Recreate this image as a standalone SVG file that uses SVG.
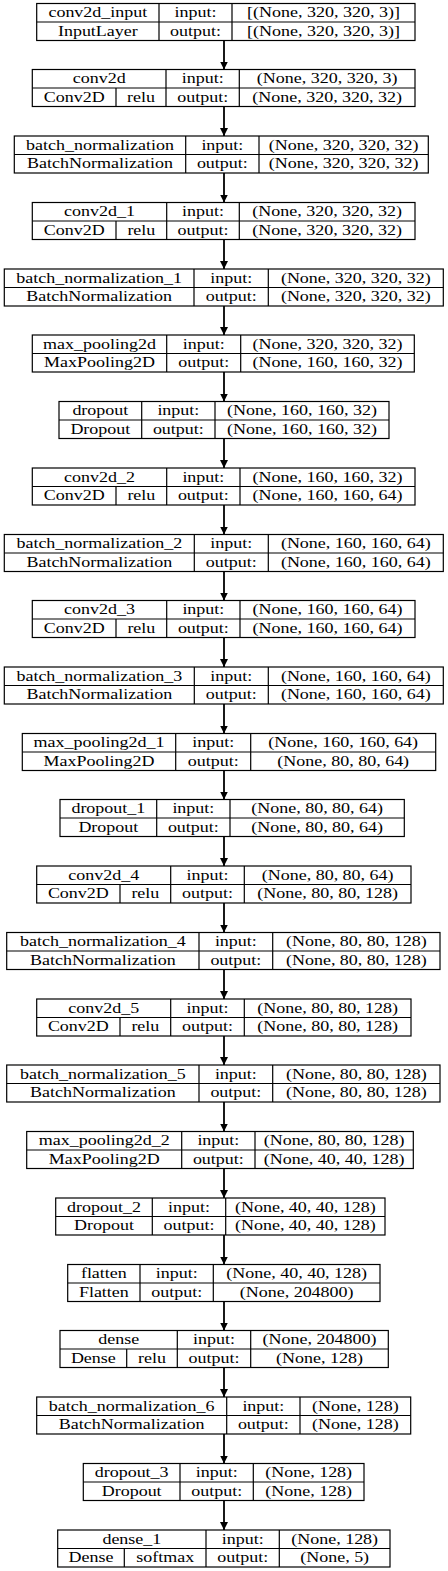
<svg xmlns="http://www.w3.org/2000/svg" width="448" height="1571" viewBox="0 0 448 1571">
<style>
.node rect,.node path{fill:none;stroke:#000;stroke-width:1.2}
.node text{font-family:"Liberation Serif","Times New Roman",serif;font-size:18px;text-anchor:middle;fill:#000}
.edges path{stroke:#000;stroke-width:1.8;fill:none;marker-end:url(#ah)}
</style>
<defs>
<marker id="ah" viewBox="0 0 10 10" refX="10" refY="5" markerWidth="8" markerHeight="9" markerUnits="userSpaceOnUse" orient="auto"><path d="M0,0 L10,5 L0,10 z" fill="#000"/></marker>
</defs>
<rect width="448" height="1571" fill="#fff"/>
<g class="edges">
<path d="M224 40.5V69.5"/><path d="M224 106.5V136"/><path d="M224 173V202.5"/><path d="M224 239.5V269"/><path d="M224 306V335"/><path d="M224 372V401.5"/><path d="M224 438.5V468"/><path d="M224 505V534.5"/><path d="M224 571.5V600.5"/><path d="M224 637.5V667"/><path d="M224 704V733.5"/><path d="M224 770.5V799.5"/><path d="M224 836.5V866"/><path d="M224 903V932.5"/><path d="M224 969.5V999"/><path d="M224 1036V1065"/><path d="M224 1102V1131.5"/><path d="M224 1168.5V1198"/><path d="M224 1235V1264.5"/><path d="M224 1301.5V1330.5"/><path d="M224 1367.5V1397"/><path d="M224 1434V1463.5"/><path d="M224 1500.5V1530"/>
</g>
<g id="conv2d_input" class="node"><rect x="36.7" y="3.5" width="378.3" height="37"/><path d="M36.7 22H415M159 3.5V40.5M232 3.5V40.5"/>
<text transform="translate(97.85,17) scale(1,0.76)">conv2d_input</text><text transform="translate(195.5,17) scale(1,0.76)">input:</text><text transform="translate(323.5,17) scale(1,0.76)">[(None, 320, 320, 3)]</text>
<text transform="translate(97.85,35.5) scale(1,0.76)">InputLayer</text><text transform="translate(195.5,35.5) scale(1,0.76)">output:</text><text transform="translate(323.5,35.5) scale(1,0.76)">[(None, 320, 320, 3)]</text></g>
<g id="conv2d" class="node"><rect x="32.3" y="69.5" width="382.7" height="37"/><path d="M32.3 88H415M166 69.5V106.5M239.3 69.5V106.5M116 88V106.5"/>
<text transform="translate(99.15,83) scale(1,0.76)">conv2d</text><text transform="translate(202.65,83) scale(1,0.76)">input:</text><text transform="translate(327.15,83) scale(1,0.76)">(None, 320, 320, 3)</text>
<text transform="translate(74.15,101.5) scale(1,0.76)">Conv2D</text><text transform="translate(141,101.5) scale(1,0.76)">relu</text><text transform="translate(202.65,101.5) scale(1,0.76)">output:</text><text transform="translate(327.15,101.5) scale(1,0.76)">(None, 320, 320, 32)</text></g>
<g id="batch_normalization" class="node"><rect x="14.3" y="136" width="414" height="37"/><path d="M14.3 154.5H428.3M185.7 136V173M259 136V173"/>
<text transform="translate(100,149.5) scale(1,0.76)">batch_normalization</text><text transform="translate(222.35,149.5) scale(1,0.76)">input:</text><text transform="translate(343.65,149.5) scale(1,0.76)">(None, 320, 320, 32)</text>
<text transform="translate(100,168) scale(1,0.76)">BatchNormalization</text><text transform="translate(222.35,168) scale(1,0.76)">output:</text><text transform="translate(343.65,168) scale(1,0.76)">(None, 320, 320, 32)</text></g>
<g id="conv2d_1" class="node"><rect x="32.3" y="202.5" width="382.7" height="37"/><path d="M32.3 221H415M166.7 202.5V239.5M239.3 202.5V239.5M116 221V239.5"/>
<text transform="translate(99.5,216) scale(1,0.76)">conv2d_1</text><text transform="translate(203,216) scale(1,0.76)">input:</text><text transform="translate(327.15,216) scale(1,0.76)">(None, 320, 320, 32)</text>
<text transform="translate(74.15,234.5) scale(1,0.76)">Conv2D</text><text transform="translate(141.35,234.5) scale(1,0.76)">relu</text><text transform="translate(203,234.5) scale(1,0.76)">output:</text><text transform="translate(327.15,234.5) scale(1,0.76)">(None, 320, 320, 32)</text></g>
<g id="batch_normalization_1" class="node"><rect x="4.3" y="269" width="439" height="37"/><path d="M4.3 287.5H443.3M194 269V306M268.3 269V306"/>
<text transform="translate(99.15,282.5) scale(1,0.76)">batch_normalization_1</text><text transform="translate(231.15,282.5) scale(1,0.76)">input:</text><text transform="translate(355.8,282.5) scale(1,0.76)">(None, 320, 320, 32)</text>
<text transform="translate(99.15,301) scale(1,0.76)">BatchNormalization</text><text transform="translate(231.15,301) scale(1,0.76)">output:</text><text transform="translate(355.8,301) scale(1,0.76)">(None, 320, 320, 32)</text></g>
<g id="max_pooling2d" class="node"><rect x="32.3" y="335" width="382" height="37"/><path d="M32.3 353.5H414.3M166.7 335V372M240.7 335V372"/>
<text transform="translate(99.5,348.5) scale(1,0.76)">max_pooling2d</text><text transform="translate(203.7,348.5) scale(1,0.76)">input:</text><text transform="translate(327.5,348.5) scale(1,0.76)">(None, 320, 320, 32)</text>
<text transform="translate(99.5,367) scale(1,0.76)">MaxPooling2D</text><text transform="translate(203.7,367) scale(1,0.76)">output:</text><text transform="translate(327.5,367) scale(1,0.76)">(None, 160, 160, 32)</text></g>
<g id="dropout" class="node"><rect x="59" y="401.5" width="330" height="37"/><path d="M59 420H389M141.7 401.5V438.5M215 401.5V438.5"/>
<text transform="translate(100.35,415) scale(1,0.76)">dropout</text><text transform="translate(178.35,415) scale(1,0.76)">input:</text><text transform="translate(302,415) scale(1,0.76)">(None, 160, 160, 32)</text>
<text transform="translate(100.35,433.5) scale(1,0.76)">Dropout</text><text transform="translate(178.35,433.5) scale(1,0.76)">output:</text><text transform="translate(302,433.5) scale(1,0.76)">(None, 160, 160, 32)</text></g>
<g id="conv2d_2" class="node"><rect x="32.3" y="468" width="382.7" height="37"/><path d="M32.3 486.5H415M166.7 468V505M240 468V505M116 486.5V505"/>
<text transform="translate(99.5,481.5) scale(1,0.76)">conv2d_2</text><text transform="translate(203.35,481.5) scale(1,0.76)">input:</text><text transform="translate(327.5,481.5) scale(1,0.76)">(None, 160, 160, 32)</text>
<text transform="translate(74.15,500) scale(1,0.76)">Conv2D</text><text transform="translate(141.35,500) scale(1,0.76)">relu</text><text transform="translate(203.35,500) scale(1,0.76)">output:</text><text transform="translate(327.5,500) scale(1,0.76)">(None, 160, 160, 64)</text></g>
<g id="batch_normalization_2" class="node"><rect x="4.3" y="534.5" width="439" height="37"/><path d="M4.3 553H443.3M194.3 534.5V571.5M268.3 534.5V571.5"/>
<text transform="translate(99.3,548) scale(1,0.76)">batch_normalization_2</text><text transform="translate(231.3,548) scale(1,0.76)">input:</text><text transform="translate(355.8,548) scale(1,0.76)">(None, 160, 160, 64)</text>
<text transform="translate(99.3,566.5) scale(1,0.76)">BatchNormalization</text><text transform="translate(231.3,566.5) scale(1,0.76)">output:</text><text transform="translate(355.8,566.5) scale(1,0.76)">(None, 160, 160, 64)</text></g>
<g id="conv2d_3" class="node"><rect x="32.3" y="600.5" width="382.7" height="37"/><path d="M32.3 619H415M166.7 600.5V637.5M240 600.5V637.5M116 619V637.5"/>
<text transform="translate(99.5,614) scale(1,0.76)">conv2d_3</text><text transform="translate(203.35,614) scale(1,0.76)">input:</text><text transform="translate(327.5,614) scale(1,0.76)">(None, 160, 160, 64)</text>
<text transform="translate(74.15,632.5) scale(1,0.76)">Conv2D</text><text transform="translate(141.35,632.5) scale(1,0.76)">relu</text><text transform="translate(203.35,632.5) scale(1,0.76)">output:</text><text transform="translate(327.5,632.5) scale(1,0.76)">(None, 160, 160, 64)</text></g>
<g id="batch_normalization_3" class="node"><rect x="4.3" y="667" width="439" height="37"/><path d="M4.3 685.5H443.3M194.3 667V704M268.3 667V704"/>
<text transform="translate(99.3,680.5) scale(1,0.76)">batch_normalization_3</text><text transform="translate(231.3,680.5) scale(1,0.76)">input:</text><text transform="translate(355.8,680.5) scale(1,0.76)">(None, 160, 160, 64)</text>
<text transform="translate(99.3,699) scale(1,0.76)">BatchNormalization</text><text transform="translate(231.3,699) scale(1,0.76)">output:</text><text transform="translate(355.8,699) scale(1,0.76)">(None, 160, 160, 64)</text></g>
<g id="max_pooling2d_1" class="node"><rect x="22.3" y="733.5" width="413.4" height="37"/><path d="M22.3 752H435.7M175.7 733.5V770.5M250.7 733.5V770.5"/>
<text transform="translate(99,747) scale(1,0.76)">max_pooling2d_1</text><text transform="translate(213.2,747) scale(1,0.76)">input:</text><text transform="translate(343.2,747) scale(1,0.76)">(None, 160, 160, 64)</text>
<text transform="translate(99,765.5) scale(1,0.76)">MaxPooling2D</text><text transform="translate(213.2,765.5) scale(1,0.76)">output:</text><text transform="translate(343.2,765.5) scale(1,0.76)">(None, 80, 80, 64)</text></g>
<g id="dropout_1" class="node"><rect x="60" y="799.5" width="344.3" height="37"/><path d="M60 818H404.3M156.7 799.5V836.5M230 799.5V836.5"/>
<text transform="translate(108.35,813) scale(1,0.76)">dropout_1</text><text transform="translate(193.35,813) scale(1,0.76)">input:</text><text transform="translate(317.15,813) scale(1,0.76)">(None, 80, 80, 64)</text>
<text transform="translate(108.35,831.5) scale(1,0.76)">Dropout</text><text transform="translate(193.35,831.5) scale(1,0.76)">output:</text><text transform="translate(317.15,831.5) scale(1,0.76)">(None, 80, 80, 64)</text></g>
<g id="conv2d_4" class="node"><rect x="36.7" y="866" width="374.3" height="37"/><path d="M36.7 884.5H411M170.7 866V903M244.3 866V903M120 884.5V903"/>
<text transform="translate(103.7,879.5) scale(1,0.76)">conv2d_4</text><text transform="translate(207.5,879.5) scale(1,0.76)">input:</text><text transform="translate(327.65,879.5) scale(1,0.76)">(None, 80, 80, 64)</text>
<text transform="translate(78.35,898) scale(1,0.76)">Conv2D</text><text transform="translate(145.35,898) scale(1,0.76)">relu</text><text transform="translate(207.5,898) scale(1,0.76)">output:</text><text transform="translate(327.65,898) scale(1,0.76)">(None, 80, 80, 128)</text></g>
<g id="batch_normalization_4" class="node"><rect x="6.7" y="932.5" width="433.3" height="37"/><path d="M6.7 951H440M199 932.5V969.5M272.7 932.5V969.5"/>
<text transform="translate(102.85,946) scale(1,0.76)">batch_normalization_4</text><text transform="translate(235.85,946) scale(1,0.76)">input:</text><text transform="translate(356.35,946) scale(1,0.76)">(None, 80, 80, 128)</text>
<text transform="translate(102.85,964.5) scale(1,0.76)">BatchNormalization</text><text transform="translate(235.85,964.5) scale(1,0.76)">output:</text><text transform="translate(356.35,964.5) scale(1,0.76)">(None, 80, 80, 128)</text></g>
<g id="conv2d_5" class="node"><rect x="36.7" y="999" width="374.3" height="37"/><path d="M36.7 1017.5H411M170.7 999V1036M244.3 999V1036M120 1017.5V1036"/>
<text transform="translate(103.7,1012.5) scale(1,0.76)">conv2d_5</text><text transform="translate(207.5,1012.5) scale(1,0.76)">input:</text><text transform="translate(327.65,1012.5) scale(1,0.76)">(None, 80, 80, 128)</text>
<text transform="translate(78.35,1031) scale(1,0.76)">Conv2D</text><text transform="translate(145.35,1031) scale(1,0.76)">relu</text><text transform="translate(207.5,1031) scale(1,0.76)">output:</text><text transform="translate(327.65,1031) scale(1,0.76)">(None, 80, 80, 128)</text></g>
<g id="batch_normalization_5" class="node"><rect x="6.7" y="1065" width="433.3" height="37"/><path d="M6.7 1083.5H440M199 1065V1102M272.7 1065V1102"/>
<text transform="translate(102.85,1078.5) scale(1,0.76)">batch_normalization_5</text><text transform="translate(235.85,1078.5) scale(1,0.76)">input:</text><text transform="translate(356.35,1078.5) scale(1,0.76)">(None, 80, 80, 128)</text>
<text transform="translate(102.85,1097) scale(1,0.76)">BatchNormalization</text><text transform="translate(235.85,1097) scale(1,0.76)">output:</text><text transform="translate(356.35,1097) scale(1,0.76)">(None, 80, 80, 128)</text></g>
<g id="max_pooling2d_2" class="node"><rect x="26.7" y="1131.5" width="386.6" height="37"/><path d="M26.7 1150H413.3M181.7 1131.5V1168.5M255 1131.5V1168.5"/>
<text transform="translate(104.2,1145) scale(1,0.76)">max_pooling2d_2</text><text transform="translate(218.35,1145) scale(1,0.76)">input:</text><text transform="translate(334.15,1145) scale(1,0.76)">(None, 80, 80, 128)</text>
<text transform="translate(104.2,1163.5) scale(1,0.76)">MaxPooling2D</text><text transform="translate(218.35,1163.5) scale(1,0.76)">output:</text><text transform="translate(334.15,1163.5) scale(1,0.76)">(None, 40, 40, 128)</text></g>
<g id="dropout_2" class="node"><rect x="55.7" y="1198" width="329.3" height="37"/><path d="M55.7 1216.5H385M152.3 1198V1235M225.7 1198V1235"/>
<text transform="translate(104,1211.5) scale(1,0.76)">dropout_2</text><text transform="translate(189,1211.5) scale(1,0.76)">input:</text><text transform="translate(305.35,1211.5) scale(1,0.76)">(None, 40, 40, 128)</text>
<text transform="translate(104,1230) scale(1,0.76)">Dropout</text><text transform="translate(189,1230) scale(1,0.76)">output:</text><text transform="translate(305.35,1230) scale(1,0.76)">(None, 40, 40, 128)</text></g>
<g id="flatten" class="node"><rect x="67.7" y="1264.5" width="312.3" height="37"/><path d="M67.7 1283H380M140 1264.5V1301.5M213.3 1264.5V1301.5"/>
<text transform="translate(103.85,1278) scale(1,0.76)">flatten</text><text transform="translate(176.65,1278) scale(1,0.76)">input:</text><text transform="translate(296.65,1278) scale(1,0.76)">(None, 40, 40, 128)</text>
<text transform="translate(103.85,1296.5) scale(1,0.76)">Flatten</text><text transform="translate(176.65,1296.5) scale(1,0.76)">output:</text><text transform="translate(296.65,1296.5) scale(1,0.76)">(None, 204800)</text></g>
<g id="dense" class="node"><rect x="60" y="1330.5" width="328.3" height="37"/><path d="M60 1349H388.3M177.3 1330.5V1367.5M250.7 1330.5V1367.5M126.7 1349V1367.5"/>
<text transform="translate(118.65,1344) scale(1,0.76)">dense</text><text transform="translate(214,1344) scale(1,0.76)">input:</text><text transform="translate(319.5,1344) scale(1,0.76)">(None, 204800)</text>
<text transform="translate(93.35,1362.5) scale(1,0.76)">Dense</text><text transform="translate(152,1362.5) scale(1,0.76)">relu</text><text transform="translate(214,1362.5) scale(1,0.76)">output:</text><text transform="translate(319.5,1362.5) scale(1,0.76)">(None, 128)</text></g>
<g id="batch_normalization_6" class="node"><rect x="36.7" y="1397" width="374" height="37"/><path d="M36.7 1415.5H410.7M226.7 1397V1434M300 1397V1434"/>
<text transform="translate(131.7,1410.5) scale(1,0.76)">batch_normalization_6</text><text transform="translate(263.35,1410.5) scale(1,0.76)">input:</text><text transform="translate(355.35,1410.5) scale(1,0.76)">(None, 128)</text>
<text transform="translate(131.7,1429) scale(1,0.76)">BatchNormalization</text><text transform="translate(263.35,1429) scale(1,0.76)">output:</text><text transform="translate(355.35,1429) scale(1,0.76)">(None, 128)</text></g>
<g id="dropout_3" class="node"><rect x="83.3" y="1463.5" width="280.7" height="37"/><path d="M83.3 1482H364M180 1463.5V1500.5M253.3 1463.5V1500.5"/>
<text transform="translate(131.65,1477) scale(1,0.76)">dropout_3</text><text transform="translate(216.65,1477) scale(1,0.76)">input:</text><text transform="translate(308.65,1477) scale(1,0.76)">(None, 128)</text>
<text transform="translate(131.65,1495.5) scale(1,0.76)">Dropout</text><text transform="translate(216.65,1495.5) scale(1,0.76)">output:</text><text transform="translate(308.65,1495.5) scale(1,0.76)">(None, 128)</text></g>
<g id="dense_1" class="node"><rect x="57.7" y="1530" width="332.3" height="37"/><path d="M57.7 1548.5H390M206 1530V1567M279.3 1530V1567M124.3 1548.5V1567"/>
<text transform="translate(131.85,1543.5) scale(1,0.76)">dense_1</text><text transform="translate(242.65,1543.5) scale(1,0.76)">input:</text><text transform="translate(334.65,1543.5) scale(1,0.76)">(None, 128)</text>
<text transform="translate(91,1562) scale(1,0.76)">Dense</text><text transform="translate(165.15,1562) scale(1,0.76)">softmax</text><text transform="translate(242.65,1562) scale(1,0.76)">output:</text><text transform="translate(334.65,1562) scale(1,0.76)">(None, 5)</text></g>
</svg>
